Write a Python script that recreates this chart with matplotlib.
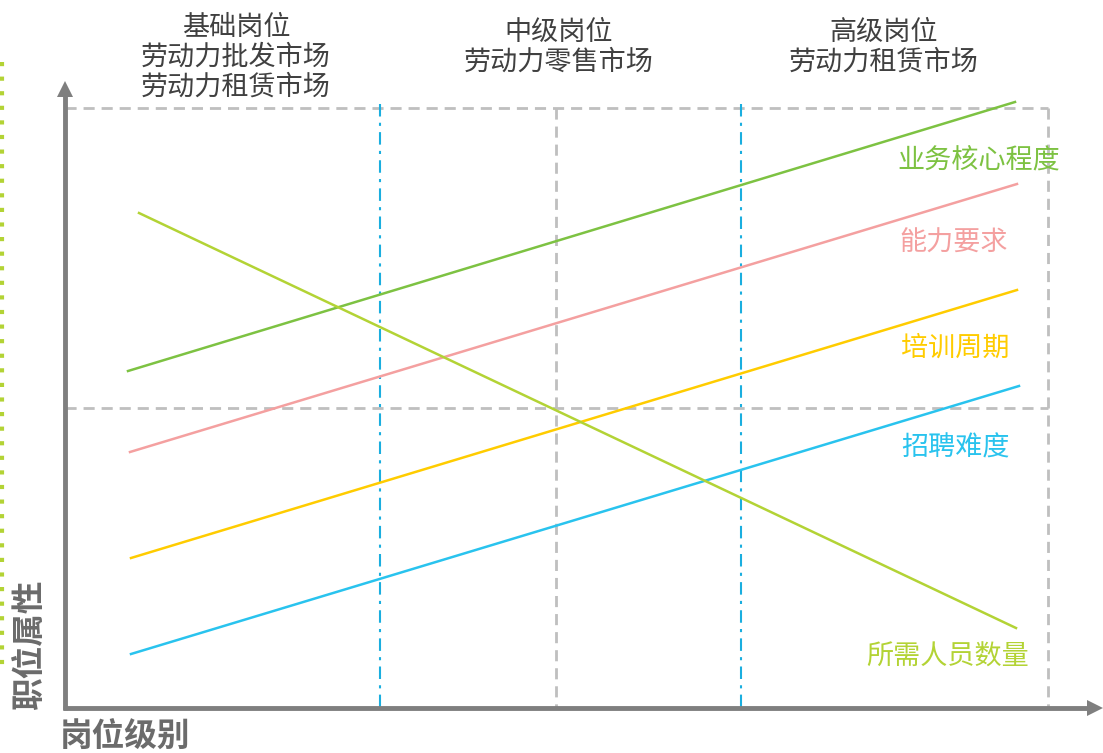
import matplotlib.pyplot as plt

plt.rcParams['font.family'] = ['Noto Sans CJK SC', 'DejaVu Sans']

# chart laid out in pixel units of the reference picture (y grows downward)
series = ['业务核心程度', '能力要求', '培训周期', '招聘难度', '所需人员数量']
x_start = [128, 130, 131, 131, 139]
y_start = [371, 452, 558, 654, 213]
x_end = [1015, 1017, 1017, 1019, 1016]
y_end = [102, 184, 290, 386, 628]
colors = ['#7DC242', '#F4A0A0', '#FFCC00', '#29C3EE', '#B3D335']
label_x = [979, 954, 955, 955, 948]
label_y = [160, 243, 348, 448, 657]

headers = ['基础岗位\n劳动力批发市场\n劳动力租赁市场', '中级岗位\n劳动力零售市场', '高级岗位\n劳动力租赁市场']
header_x = [236, 559, 884]
header_y = [57, 47, 47]

origin = (65, 708)
box_top, box_right, mid_y, mid_x = 108, 1048, 408, 556
blue_x = [380, 741]

fig = plt.figure(figsize=(11.03, 7.53), dpi=100)
ax = fig.add_axes([0, 0, 1, 1])
ax.set_xlim(0, 1103)
ax.set_ylim(753, 0)
ax.axis('off')

grey = '#BFBFBF'
ax.plot([origin[0], box_right], [box_top, box_top], color=grey, lw=2, ls=(0, (4, 2.5)))
ax.plot([box_right, box_right], [box_top, origin[1]], color=grey, lw=2, ls=(0, (4, 2.5)))
ax.plot([origin[0], box_right], [mid_y, mid_y], color=grey, lw=2, ls=(0, (4, 2.5)))
ax.plot([mid_x, mid_x], [box_top, origin[1]], color=grey, lw=2, ls=(0, (4, 2.5)))
for bx in blue_x:
    ax.plot([bx, bx], [box_top - 4, origin[1]], color='#1AAEDF', lw=1.5,
            ls=(0, (6, 3, 1.5, 3)))

for i, name in enumerate(series):
    ax.plot([x_start[i], x_end[i]], [y_start[i], y_end[i]], color=colors[i], lw=1.8)
    ax.text(label_x[i], label_y[i], name, color=colors[i], fontsize=19.5,
            ha='center', va='center')

for t, hx, hy in zip(headers, header_x, header_y):
    ax.text(hx, hy, t, color='#404040', fontsize=19.5, ha='center', va='center',
            linespacing=1.14)

# axes with arrows
axis_c = '#7F7F7F'
ax.plot([origin[0], origin[0]], [origin[1] + 2, 95], color=axis_c, lw=3.5, solid_capstyle='butt')
ax.plot([origin[0] - 2, 1092], [origin[1], origin[1]], color=axis_c, lw=3.5, solid_capstyle='butt')
ax.plot([origin[0]], [89], marker='^', color=axis_c, markersize=12, markeredgewidth=0)
ax.plot([1095], [origin[1]], marker='>', color=axis_c, markersize=12, markeredgewidth=0)

ax.text(125, 737, '岗位级别', color='#6B6B6B', fontsize=23.5, fontweight='bold',
        ha='center', va='center')
ax.text(30, 645, '职位属性', color='#6B6B6B', fontsize=23.5, fontweight='bold',
        ha='center', va='center', rotation=90)

# dotted accent on the left edge
ax.plot([1.5, 1.5], [62, 670], color='#B3D335', lw=3, ls=(0, (1, 2.5)))

fig.savefig('out.png', dpi=100)
